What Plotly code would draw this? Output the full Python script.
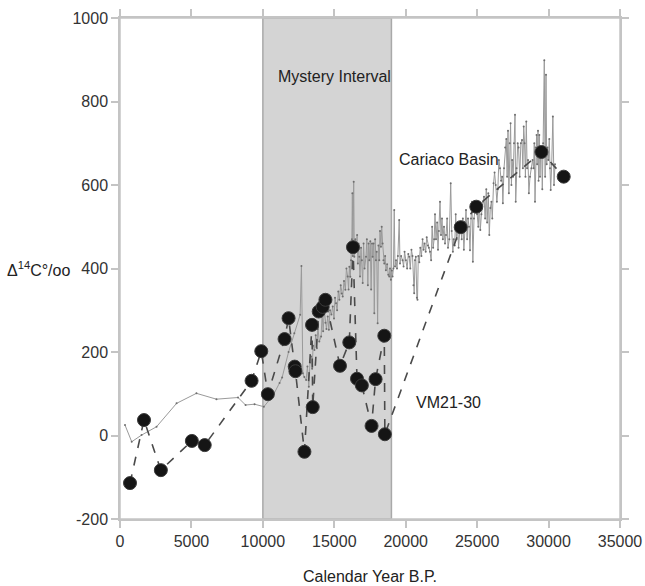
import plotly.graph_objects as go

# ---------------- data ----------------
cariaco_age = [
    350, 820, 1510, 2560, 3960, 5350, 6750, 8260, 8790, 9420, 10070, 10700, 11170, 11350, 11800, 12200,
    12610, 12700, 12800, 12900, 13030, 13120, 13216, 13300, 13379, 13450, 13520, 13611, 13700, 13780,
    13850, 13950, 14077, 14150, 14220, 14300, 14380, 14450, 14542, 14620, 14700, 14800, 14891, 14980,
    15050, 15124, 15200, 15280, 15357, 15450, 15520, 15590, 15680, 15776, 15850, 15939, 16000, 16055,
    16120, 16172, 16230, 16265, 16300, 16358, 16400, 16470, 16520, 16600, 16650, 16700, 16753, 16800,
    16870, 16930, 16990, 17050, 17120, 17219, 17280, 17350, 17400, 17451, 17520, 17580, 17640, 17684,
    17750, 17800, 17860, 17916, 17970, 18033, 18090, 18149, 18200, 18265, 18320, 18382, 18440, 18500,
    18560, 18614, 18700, 18780, 18847, 18900, 18963, 19030, 19080, 19140, 19196, 19250, 19320, 19390,
    19450, 19545, 19600, 19680, 19778, 19850, 19920, 20011, 20100, 20180, 20243, 20320, 20400, 20476,
    20540, 20592, 20650, 20709, 20780, 20824, 20880, 20950, 21020, 21100, 21180, 21250, 21320, 21400,
    21470, 21550, 21620, 21700, 21780, 21850, 21920, 21990, 22050, 22120, 22200, 22260, 22320, 22400,
    22470, 22540, 22600, 22680, 22750, 22820, 22900, 22960, 23050, 23150, 23220, 23300, 23360, 23430,
    23500, 23560, 23640, 23700, 23780, 23850, 23920, 24000, 24070, 24150, 24220, 24300, 24360, 24430,
    24500, 24570, 24640, 24700, 24780, 24850, 24940, 25000, 25080, 25150, 25220, 25300, 25400, 25480,
    25560, 25640, 25700, 25780, 25850, 25920, 26000, 26060, 26150, 26220, 26300, 26380, 26450, 26520,
    26600, 26680, 26750, 26800, 26880, 26960, 27040, 27100, 27160, 27220, 27280, 27340, 27400, 27450,
    27520, 27580, 27650, 27700, 27760, 27840, 27900, 27980, 28060, 28140, 28200, 28260, 28320, 28380,
    28440, 28500, 28560, 28620, 28700, 28800, 28880, 28950, 29000, 29050, 29100, 29160, 29200, 29260,
    29300, 29350, 29400, 29460, 29520, 29560, 29620, 29700, 29760, 29820, 29870, 29920, 29980, 30050,
    30100, 30150, 30220, 30300, 30380, 30450,
]
cariaco_d14c = [
    25, -15, 1, 21, 77, 101, 87, 91, 73, 75, 69, 95, 126, 139, 200, 245,
    289, 406, 149, 140, 133, 165, 117, 175, 189, 160, 215, 205, 240, 209,
    260, 225, 237, 290, 250, 300, 270, 255, 285, 253, 300, 290, 309, 280,
    330, 317, 300, 345, 325, 360, 340, 333, 370, 349, 400, 381, 350, 404,
    380, 420, 470, 580, 430, 608, 428, 470, 444, 480, 412, 460, 428, 381,
    450, 420, 365, 460, 400, 428, 470, 360, 460, 420, 465, 350, 460, 428,
    460, 293, 470, 420, 440, 269, 455, 420, 490, 452, 500, 460, 420, 412,
    430, 396, 410, 385, 381, 400, 373, 395, 381, 400, 540, 405, 420, 400,
    430, 516, 412, 430, 420, 405, 440, 420, 400, 435, 428, 400, 445, 430,
    360, 341, 420, 428, 330, 325, 430, 415, 450, 430, 470, 445, 460, 440,
    475, 455, 450, 440, 420, 500, 450, 470, 530, 470, 510, 445, 490, 560,
    480, 520, 470, 500, 460, 480, 520, 450, 470, 604, 490, 440, 470, 455,
    530, 470, 500, 450, 490, 505, 470, 520, 445, 500, 540, 470, 520, 500,
    444, 520, 560, 416, 520, 540, 560, 530, 500, 560, 492, 530, 560, 572,
    520, 590, 510, 580, 480, 545, 560, 520, 604, 630, 600, 560, 590, 660,
    640, 610, 620, 556, 640, 690, 710, 620, 730, 580, 700, 748, 600, 660,
    620, 700, 768, 560, 640, 700, 690, 620, 700, 708, 640, 740, 700, 620,
    752, 640, 660, 580, 620, 640, 660, 640, 700, 560, 690, 720, 650, 730,
    610, 720, 620, 690, 680, 590, 700, 899, 620, 864, 650, 690, 660, 710,
    640, 588, 650, 764, 600, 650,
]

vm_age = [700, 1680, 2860, 5030, 5930, 9210, 9890, 10350, 11520, 11800, 12230, 12280, 12910,
          13440, 13490, 13910, 14190, 14380, 15400, 16050, 16310, 16590, 16930, 17610, 17890,
          18500, 18540, 23850, 24940, 29500, 31060]
vm_d14c = [-114, 37, -83, -13, -23, 131, 202, 99, 231, 281, 165, 154, -39,
           265, 68, 297, 308, 325, 167, 223, 451, 136, 120, 23, 135,
           239, 3, 499, 548, 679, 620]

x_ticks = [0, 5000, 10000, 15000, 20000, 25000, 30000, 35000]
y_ticks = [-200, 0, 200, 400, 600, 800, 1000]
mystery_start, mystery_end = 10000, 19000

FONT = "Liberation Sans, Arial, sans-serif"
AX = "#c4c4c4"

fig = go.Figure()

fig.add_trace(go.Scatter(
    x=cariaco_age, y=cariaco_d14c, mode="lines+markers", name="Cariaco Basin",
    line=dict(color="#9a9a9a", width=1),
    marker=dict(size=2, color="#6e6e6e"),
))
fig.add_trace(go.Scatter(
    x=vm_age, y=vm_d14c, mode="lines+markers", name="VM21-30",
    line=dict(color="#4a4a4a", width=1.6, dash="dash"),
    marker=dict(size=13, color="#151515", line=dict(color="#3a3a3a", width=1)),
))

# shaded interval
fig.add_shape(type="rect", xref="x", yref="y", x0=mystery_start, x1=mystery_end,
              y0=-200, y1=1000, fillcolor="#d4d4d4", line=dict(color="#a9a9a9", width=1.5),
              layer="below")

# axis overhangs
ox, oy = 8 / 500, 8 / 501
for s in [dict(x0=-ox, x1=1 + ox, y0=0, y1=0), dict(x0=-ox, x1=1 + ox, y0=1, y1=1),
          dict(x0=0, x1=0, y0=-oy, y1=1 + oy), dict(x0=1, x1=1, y0=-oy, y1=1 + oy)]:
    fig.add_shape(type="line", xref="paper", yref="paper", line=dict(color=AX, width=1.5), **s)

axis_common = dict(showgrid=False, zeroline=False, showline=True, mirror="ticks",
                   linecolor=AX, linewidth=1.5, ticks="outside", ticklen=7,
                   tickcolor=AX, tickwidth=1.5, automargin=False,
                   tickfont=dict(family=FONT, size=16, color="#333333"))

fig.update_xaxes(range=[0, 35000], tickvals=x_ticks, ticktext=[str(v) for v in x_ticks],
                 **axis_common)
fig.update_yaxes(range=[-200, 1000], tickvals=y_ticks, ticktext=[str(v) for v in y_ticks],
                 **axis_common)

txt = dict(family=FONT, size=16, color="#222222")
fig.add_annotation(x=(mystery_start + mystery_end) / 2 + 500, y=860, xref="x", yref="y",
                   text="Mystery Interval", showarrow=False, font=txt)
fig.add_annotation(x=23000, y=660, xref="x", yref="y", text="Cariaco Basin",
                   showarrow=False, font=txt)
fig.add_annotation(x=23000, y=78, xref="x", yref="y", text="VM21-30",
                   showarrow=False, font=txt)
fig.add_annotation(x=0.5, y=-0.114, xref="paper", yref="paper", text="Calendar Year B.P.",
                   showarrow=False, font=txt, yanchor="middle")
fig.add_annotation(x=0, y=400, xref="paper", yref="y", xanchor="right", xshift=-48,
                   text="Δ<sup>14</sup>C°/oo", showarrow=False, font=txt)

fig.update_layout(
    width=645, height=586, showlegend=False,
    margin=dict(l=120, r=25, t=18, b=67),
    plot_bgcolor="white", paper_bgcolor="white",
)

fig.write_html("out.html", config={"displayModeBar": False},
               post_script="document.body.style.margin='0px';document.body.style.padding='0px';")
